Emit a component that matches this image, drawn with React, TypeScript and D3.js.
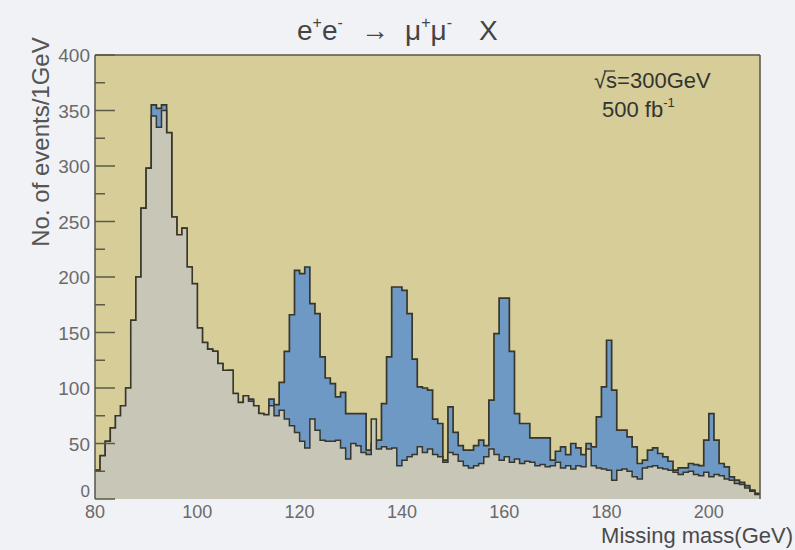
import React from 'react';
import * as d3 from 'd3';

// missing-mass bins, 1 GeV wide, 80..209 (lower edges)
const binLow = d3.range(80, 210);

// signal + background (blue)
const total = [
  26, 39, 52, 64, 75, 84, 100, 161, 200, 262,
  298, 355, 352, 355, 330, 254, 238, 244, 209, 194,
  154, 141, 135, 133, 122, 96, 116, 95, 87, 93,
  90, 84, 77, 76, 90, 85, 105, 133, 166, 206,
  203, 209, 176, 167, 128, 109, 104, 92, 96, 77,
  77, 77, 77, 44, 50, 53, 86, 128, 191, 191,
  188, 167, 126, 101, 100, 98, 72, 68, 35, 83,
  60, 48, 44, 44, 48, 53, 48, 89, 149, 181,
  181, 133, 77, 68, 68, 55, 55, 55, 55, 35,
  43, 47, 40, 50, 46, 40, 50, 47, 74, 101,
  143, 98, 62, 62, 56, 47, 32, 35, 44, 46,
  41, 38, 34, 26, 28, 28, 32, 31, 30, 53,
  77, 53, 32, 29, 20, 17, 15, 12, 8, 5,
];

// background only (gray)
const background = [
  26, 39, 52, 64, 75, 84, 100, 161, 200, 262,
  298, 345, 335, 350, 330, 254, 238, 244, 209, 194,
  154, 141, 135, 133, 122, 116, 116, 95, 87, 93,
  88, 84, 77, 76, 84, 75, 80, 72, 66, 60,
  52, 46, 72, 62, 53, 52, 52, 53, 46, 36,
  50, 48, 42, 40, 72, 45, 47, 45, 46, 30,
  35, 38, 40, 47, 42, 45, 40, 38, 33, 42,
  40, 34, 30, 28, 30, 32, 38, 45, 40, 35,
  38, 33, 36, 32, 34, 33, 30, 31, 29, 30,
  33, 28, 30, 27, 30, 29, 45, 30, 28, 27,
  26, 17, 26, 27, 25, 20, 18, 28, 29, 30,
  28, 27, 26, 24, 22, 24, 25, 22, 21, 24,
  20, 22, 21, 18, 17, 14, 13, 10, 7, 4,
];

const xTicks = [80, 100, 120, 140, 160, 180, 200];
const yTicks = [0, 50, 100, 150, 200, 250, 300, 350, 400];
const yMinor = [25, 75, 125, 175, 225, 275, 325, 375];

const W = 795;
const H = 550;
const left = 95, right = 760, top = 55, bottom = 499;
const font = '"Liberation Sans", Arial, sans-serif';

export default function App() {
  const x = d3.scaleLinear().domain([80, 210]).range([left, right]);
  const y = d3.scaleLinear().domain([0, 400]).range([bottom, top]);

  const pts = (vals: number[]) => {
    const p: [number, number][] = binLow.map((m, i) => [m, vals[i]]);
    p.push([210, vals[vals.length - 1]]);
    return p;
  };

  const area = d3.area<[number, number]>()
    .x(d => x(d[0]))
    .y0(y(0))
    .y1(d => y(d[1]))
    .curve(d3.curveStepAfter);
  const line = d3.line<[number, number]>()
    .x(d => x(d[0]))
    .y(d => y(d[1]))
    .curve(d3.curveStepAfter);

  const totPts = pts(total);
  const bgPts = pts(background);
  const sup = 16;

  return (
    <svg width={W} height={H} style={{ position: 'absolute', left: 0, top: 0, display: 'block' }}>
      <rect x={0} y={0} width={W} height={H} fill="#f1f2f6" />
      <rect x={left} y={top} width={right - left} height={bottom - top} fill="#d6cd98" />

      {/* signal + background */}
      <path d={area(totPts) || ''} fill="#6e99c4" />
      <path d={line(totPts) || ''} fill="none" stroke="#36362c" strokeWidth={1.7} />

      {/* background */}
      <path d={area(bgPts) || ''} fill="#c8c6b6" />
      <path d={line(bgPts) || ''} fill="none" stroke="#36362c" strokeWidth={1.5} />

      {/* frame */}
      <line x1={left} x2={right} y1={top} y2={top} stroke="#555548" strokeWidth={1.5} />
      <line x1={right} x2={right} y1={top} y2={bottom} stroke="#555548" strokeWidth={1.5} />
      <line x1={left} x2={left} y1={top} y2={bottom} stroke="#555548" strokeWidth={1.5} />

      {yTicks.map(t => (
        <g key={t}>
          <line x1={left} x2={left + 20} y1={y(t)} y2={y(t)} stroke="#5a5a46" strokeWidth={1.5} />
          <text x={90} y={t === 0 ? y(t) - 2 : y(t) + 7} textAnchor="end" fontFamily={font} fontSize={t === 0 ? 17 : 19} fill="#6a6a6a">{t}</text>
        </g>
      ))}
      {yMinor.map(t => (
        <line key={t} x1={left} x2={left + 10} y1={y(t)} y2={y(t)} stroke="#5a5a46" strokeWidth={1.5} />
      ))}

      {xTicks.map(t => (
        <text key={t} x={x(t)} y={518} textAnchor="middle" fontFamily={font} fontSize={18} fill="#6a6a6a">{t}</text>
      ))}

      <text x={793} y={543} textAnchor="end" fontFamily={font} fontSize={22} fill="#4a4a4a">Missing mass(GeV)</text>

      <text transform="translate(49,142) rotate(-90)" textAnchor="middle" fontFamily={font} fontSize={24} fill="#555">
        No. of events/1GeV
      </text>

      {/* title */}
      <g fontFamily={font} fontSize={28} fill="#444">
        <text x={297} y={40}>
          e<tspan fontSize={sup} dy={-12}>+</tspan><tspan dy={12}>e</tspan><tspan fontSize={sup} dy={-12}>-</tspan>
        </text>
        <text x={361} y={40}>→</text>
        <text x={405} y={40}>
          μ<tspan fontSize={sup} dy={-12}>+</tspan><tspan dy={12}>μ</tspan><tspan fontSize={sup} dy={-12}>-</tspan>
        </text>
        <text x={479} y={40}>X</text>
      </g>

      <text x={594} y={88} fontFamily={font} fontSize={22} fill="#333">√s=300GeV</text>
      <line x1={604} x2={615} y1={71} y2={71} stroke="#333" strokeWidth={1.2} />
      <text x={602} y={117} fontFamily={font} fontSize={22} fill="#333">
        500 fb<tspan fontSize={13} dy={-10}>-1</tspan>
      </text>
    </svg>
  );
}
